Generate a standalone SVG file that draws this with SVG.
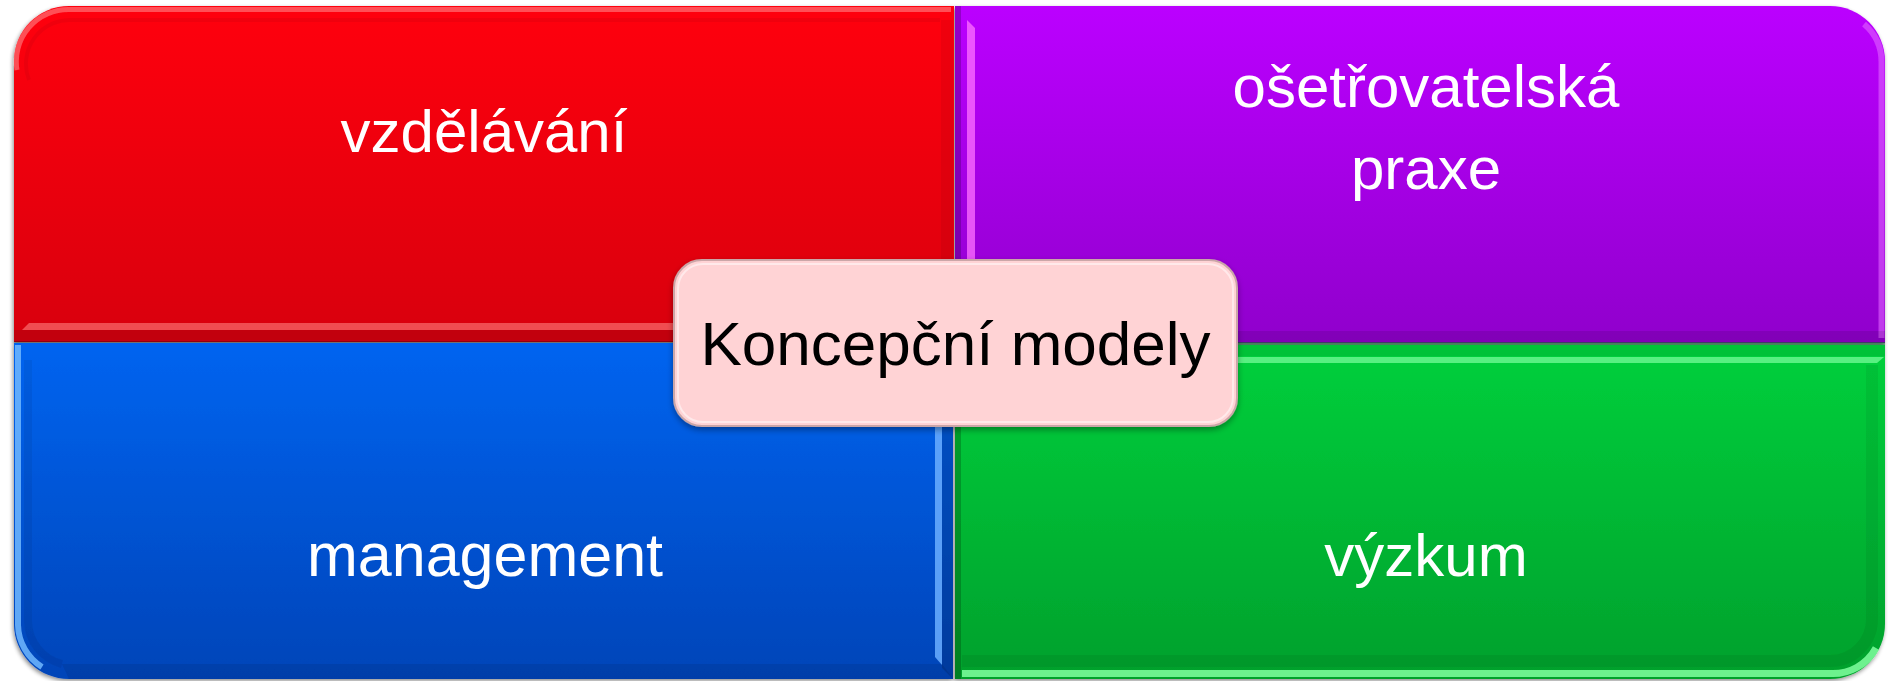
<svg xmlns="http://www.w3.org/2000/svg" width="1888" height="681" viewBox="0 0 1888 681">
  <style>
    .lbl { font-family: "Liberation Sans", Arial, sans-serif; font-size: 60px; fill: #ffffff; text-anchor: middle; }
    .ctr { font-family: "Liberation Sans", Arial, sans-serif; font-size: 62px; fill: #000000; text-anchor: middle; }
    .edge { fill: none; stroke-linecap: butt; }
    .dk { fill: #000000; }
  </style>
  <defs>
    <linearGradient id="gRed" x1="0" y1="0" x2="0" y2="1">
      <stop offset="0" stop-color="#ff0010"/>
      <stop offset="1" stop-color="#d8000c"/>
    </linearGradient>
    <linearGradient id="gPurple" x1="0" y1="0" x2="0" y2="1">
      <stop offset="0" stop-color="#bb00ff"/>
      <stop offset="1" stop-color="#9000cc"/>
    </linearGradient>
    <linearGradient id="gBlue" x1="0" y1="0" x2="0" y2="1">
      <stop offset="0" stop-color="#0064f0"/>
      <stop offset="1" stop-color="#0044b8"/>
    </linearGradient>
    <linearGradient id="gGreen" x1="0" y1="0" x2="0" y2="1">
      <stop offset="0" stop-color="#00d03c"/>
      <stop offset="1" stop-color="#00a02c"/>
    </linearGradient>
    <filter id="shadow" x="-5%" y="-5%" width="110%" height="115%">
      <feGaussianBlur in="SourceAlpha" stdDeviation="2"/>
      <feOffset dx="-1" dy="2" result="b"/>
      <feComponentTransfer><feFuncA type="linear" slope="0.45"/></feComponentTransfer>
      <feMerge><feMergeNode/><feMergeNode in="SourceGraphic"/></feMerge>
    </filter>
    <filter id="soft" x="-10%" y="-10%" width="120%" height="130%">
      <feGaussianBlur in="SourceAlpha" stdDeviation="3"/>
      <feOffset dx="0" dy="3"/>
      <feComponentTransfer><feFuncA type="linear" slope="0.35"/></feComponentTransfer>
      <feMerge><feMergeNode/><feMergeNode in="SourceGraphic"/></feMerge>
    </filter>
  </defs>

  <rect width="1888" height="681" fill="#ffffff"/>

  <g filter="url(#shadow)">
    <!-- top-left quadrant -->
    <g id="vzdelavani">
      <path d="M14,61 A55,55 0 0 1 69,6 L954,6 L954,342 L14,342 Z" fill="url(#gRed)"/>
      <path class="edge" d="M17,70 A52,52 0 0 1 69,9.5 L951,9.5" stroke="#ff9090" stroke-opacity="0.55" stroke-width="5"/>
      <path class="edge" d="M29,80 A44,44 0 0 1 73,20 L940,20" stroke="#000000" stroke-opacity="0.05" stroke-width="4"/>
      <path class="edge" d="M947,20 L947,328" stroke="#000000" stroke-opacity="0.05" stroke-width="12"/>
      <path d="M29,323 L940,323 L940,330 L22,330 Z" fill="#ff8080" opacity="0.6"/>
      <path d="M14,330 L954,330 L954,342 L14,342 Z" class="dk" opacity="0.1"/>
      <path d="M14,341 L954,341 L954,343 L14,343 Z" class="dk" opacity="0.25"/>
      <text class="lbl" x="484" y="152">vzdělávání</text>
    </g>

    <!-- top-right quadrant -->
    <g id="osetrovatelska-praxe">
      <path d="M955,6 L1830,6 A55,55 0 0 1 1885,61 L1885,343 L955,343 Z" fill="url(#gPurple)"/>
      <path d="M955,6 L961,6 L961,343 L955,343 Z" class="dk" opacity="0.2"/>
      <path d="M967,20 L975,28 L975,330 L967,330 Z" fill="#ff70ff" opacity="0.75"/>
      <path class="edge" d="M1864,24 A50,50 0 0 1 1881.5,62 L1881.5,338" stroke="#e060ff" stroke-opacity="0.6" stroke-width="6"/>
      <path d="M955,331 L1885,331 L1885,343 L955,343 Z" class="dk" opacity="0.1"/>
      <path d="M955,342 L1885,342 L1885,345 L955,345 Z" fill="#106030" opacity="0.6"/>
      <text class="lbl" x="1426" y="107">ošetřovatelská</text>
      <text class="lbl" x="1426" y="189">praxe</text>
    </g>

    <!-- bottom-left quadrant -->
    <g id="management">
      <path d="M14,343 L953,343 L953,679 L69,679 A55,55 0 0 1 14,624 Z" fill="url(#gBlue)"/>
      <path class="edge" d="M18,345 L18,625 A51,51 0 0 0 42,667" stroke="#70b8ff" stroke-opacity="0.85" stroke-width="6"/>
      <path class="edge" d="M28,360 L28,620 A45,45 0 0 0 62,664" stroke="#000000" stroke-opacity="0.06" stroke-width="8"/>
      <path d="M935,343 L942,343 L942,665 L935,657 Z" fill="#6aaeff" opacity="0.85"/>
      <path d="M942,343 L953,343 L953,679 L942,668 Z" class="dk" opacity="0.15"/>
      <path d="M62,664 L942,664 L953,679 L69,679 Z" class="dk" opacity="0.08"/>
      <text class="lbl" x="485" y="576" style="font-size:61px">management</text>
    </g>

    <!-- bottom-right quadrant -->
    <g id="vyzkum">
      <path d="M955,345 L1885,345 L1885,624 A55,55 0 0 1 1830,679 L955,679 Z" fill="url(#gGreen)"/>
      <path d="M955,345 L1885,345 L1885,356 L955,356 Z" class="dk" opacity="0.06"/>
      <path d="M955,357 L1884,357 L1877,363 L955,363 Z" fill="#7dffa0" opacity="0.7"/>
      <path d="M955,345 L961,345 L961,679 L955,679 Z" class="dk" opacity="0.2"/>
      <path class="edge" d="M962,661 L1830,661 A42,42 0 0 0 1872,619 L1872,365" stroke="#000000" stroke-opacity="0.06" stroke-width="12"/>
      <path class="edge" d="M962,673.5 L1830,673.5 A49,49 0 0 0 1876,648" stroke="#80ffa0" stroke-opacity="0.85" stroke-width="7"/>
      <text class="lbl" x="1426" y="576">výzkum</text>
    </g>
  </g>

  <!-- central label -->
  <g id="koncepcni-modely" filter="url(#soft)">
    <rect x="674" y="260" width="563" height="166" rx="28" ry="28" fill="#ffd3d5" stroke="#caa6a8" stroke-width="2"/>
    <rect x="678" y="264" width="555" height="158" rx="25" ry="25" fill="none" stroke="#ffffff" stroke-opacity="0.5" stroke-width="2"/>
    <text class="ctr" x="955.5" y="365">Koncepční modely</text>
  </g>
</svg>
